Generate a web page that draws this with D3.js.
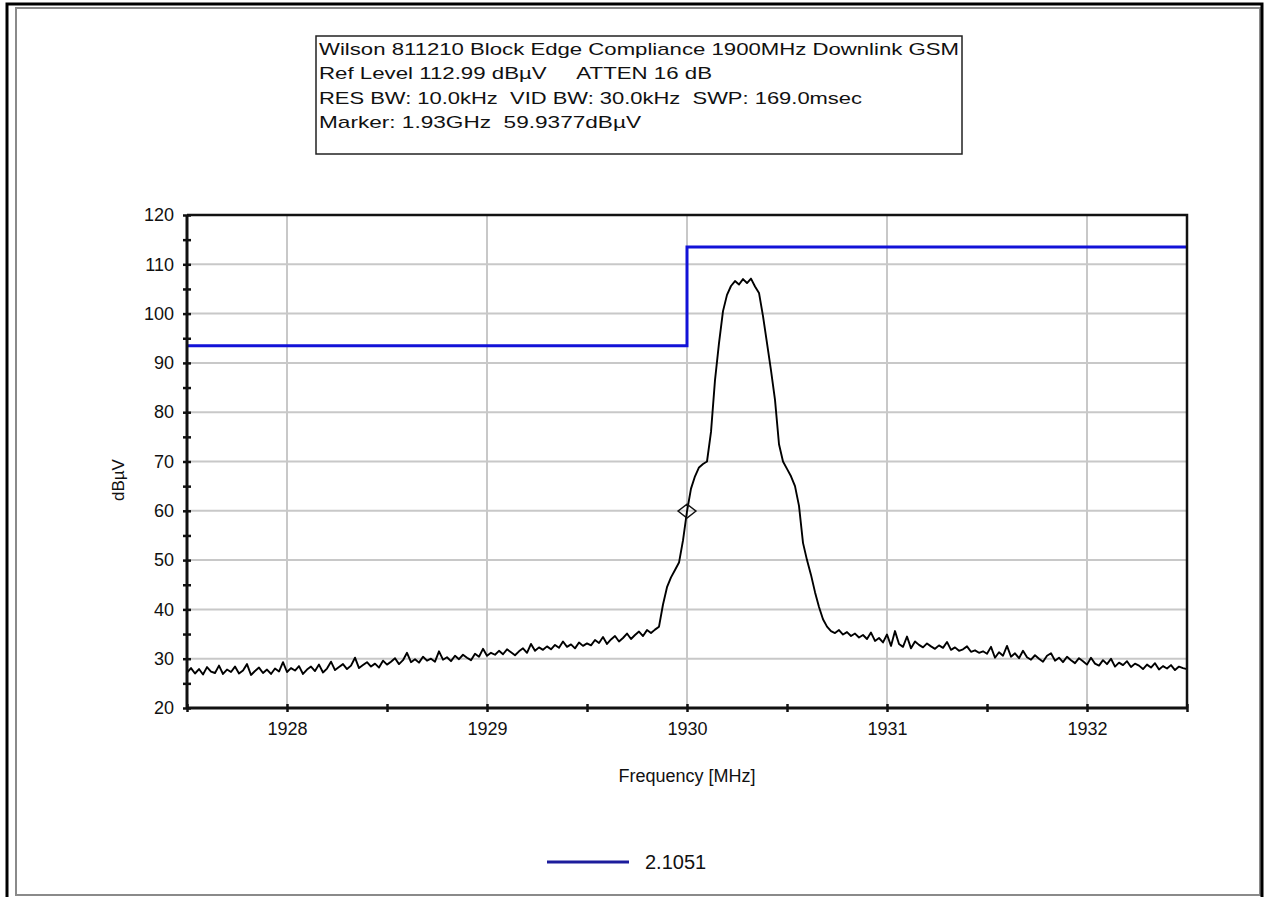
<!DOCTYPE html>
<html>
<head>
<meta charset="utf-8">
<script src="https://cdn.jsdelivr.net/npm/d3@7"></script>
<style>
  body { margin: 0; background: #fff; }
  svg text { font-family: "Liberation Sans", Arial, sans-serif; fill: #111; }
</style>
</head>
<body>
<svg id="chart" width="1268" height="897"></svg>
<script>
// header box lines
var headerLines = [
  "Wilson 811210 Block Edge Compliance 1900MHz Downlink GSM",
  "Ref Level 112.99 dB\u00b5V     ATTEN 16 dB",
  "RES BW: 10.0kHz  VID BW: 30.0kHz  SWP: 169.0msec",
  "Marker: 1.93GHz  59.9377dB\u00b5V"
];
var headerWidths = [640, 393, 543, 322];

// axis ticks
var xTicks = [1928, 1929, 1930, 1931, 1932];
var xMinorTicks = [1927.5, 1928.5, 1929.5, 1930.5, 1931.5, 1932.5];
var yTicks = [20, 30, 40, 50, 60, 70, 80, 90, 100, 110, 120];
var yMinorTicks = [25, 35, 45, 55, 65, 75, 85, 95, 105, 115];

// limit line (blue), MHz / dBuV
var limitFreq = [1927.5, 1930, 1930, 1932.5];
var limitLevel = [93.5, 93.5, 113.5, 113.5];

// measured trace, sweep start 1927.5 MHz, 0.02 MHz per point
var sweepStart = 1927.5, sweepStep = 0.02;
var traceLevel = [
  27.2, 28.1, 27.0, 27.9, 26.8, 28.3, 27.4, 27.1, 28.6, 26.9, 27.8, 27.3, 28.4, 27.0, 27.6, 28.9, 26.7, 27.5, 28.2, 27.1, 27.8, 26.9, 28.0, 27.4, 29.3,
  27.3, 28.1, 27.6, 28.5, 26.9, 27.8, 28.4, 27.5, 28.8, 27.2, 28.0, 29.4, 27.7, 28.3, 28.9, 27.9, 28.6, 30.2, 28.1, 28.7, 29.3, 28.4, 29.0, 28.2, 29.6,
  28.8, 29.4, 30.1, 28.9, 29.7, 31.2, 29.3, 29.9, 29.2, 30.4, 29.6, 30.0, 29.4, 31.5, 29.8, 30.3, 29.5, 30.6, 29.9, 30.8, 30.2, 29.7, 31.0, 30.4, 32.0,
  30.6, 31.2, 30.8, 31.6, 30.9, 31.9, 31.3, 30.7, 31.5, 32.1, 31.2, 33.0, 31.6, 32.3, 31.8, 32.5, 31.9, 32.8, 32.2, 33.5, 32.4, 32.9, 32.1, 33.3, 32.6,
  33.1, 32.7, 33.8, 33.2, 34.4, 33.0, 33.9, 34.6, 33.5, 34.2, 35.1, 34.0, 34.8, 35.5, 34.6, 35.8, 35.2, 35.9,
  36.5, 41.0, 44.5, 46.5, 48.0, 49.5, 54.0, 59.9, 64.5, 67.0, 68.8, 69.5, 70.0, 76.0, 86.5, 94.0, 100.5, 103.8, 105.6, 106.6, 105.9, 107.0,
  106.2, 107.1, 105.5, 104.2, 99.5, 94.0, 88.5, 82.5, 73.5, 70.0, 68.5, 67.0, 65.0, 61.0, 53.5, 50.0, 47.0, 43.5, 40.5, 38.0, 36.5, 35.6,
  35.2, 35.8, 34.9, 35.4, 34.6, 35.1, 34.3, 34.8, 34.0, 35.3, 33.6, 34.2, 33.3,
  34.9, 32.6, 35.6, 33.0, 32.4, 34.5, 32.1, 33.5, 32.8, 32.3, 33.1, 32.5, 32.0, 32.7, 32.2, 33.4, 31.8, 32.3, 31.6, 31.9, 32.5, 31.4, 31.7, 31.2, 31.5,
  31.0, 32.4, 30.2, 31.3, 30.6, 32.6, 30.4, 31.1, 30.1, 31.6, 30.3, 29.8, 30.7, 30.0, 29.4, 30.6, 31.1, 29.6, 30.2, 29.3, 30.4, 29.7, 29.1, 30.1, 29.5,
  28.8, 30.2, 29.0, 28.6, 29.7, 28.9, 30.0, 28.4, 29.2, 28.7, 29.5, 28.3, 29.0, 28.6, 27.9, 28.8, 28.2, 29.1, 27.8, 28.5, 28.0, 28.7, 27.7, 28.4, 28.1, 27.9
];

// marker
var markerFreq = 1930.0, markerLevel = 59.94;
var legendLabel = "2.1051";

var svg = d3.select("#chart"),
    margin = {top: 215, left: 187},
    width = 1000,
    height = 493;

// outer frame of the window
svg.append("rect")
    .attr("x", 16).attr("y", 8)
    .attr("width", 1244).attr("height", 887)
    .attr("fill", "#fff")
    .attr("stroke", "#8a8a8a").attr("stroke-width", 2);
svg.append("path")
    .attr("d", "M7,899V4H1262V899")
    .attr("fill", "none")
    .attr("stroke", "#000").attr("stroke-width", 3);

// header box
svg.append("rect")
    .attr("x", 316).attr("y", 36)
    .attr("width", 646).attr("height", 118)
    .attr("fill", "#fff")
    .attr("stroke", "#222").attr("stroke-width", 1.5);

svg.selectAll(".hdr")
  .data(headerLines)
  .enter().append("text")
    .attr("class", "hdr")
    .attr("x", 319)
    .attr("y", function(d, i) { return 55 + i * 24.3; })
    .attr("textLength", function(d, i) { return headerWidths[i]; })
    .attr("lengthAdjust", "spacingAndGlyphs")
    .style("font-size", "17px")
    .style("white-space", "pre")
    .text(function(d) { return d; });

var x = d3.scaleLinear().domain([1927.5, 1932.5]).range([0, width]),
    y = d3.scaleLinear().domain([20, 120]).range([height, 0]);

var g = svg.append("g")
    .attr("transform", "translate(" + margin.left + "," + margin.top + ")");

// grid
g.selectAll(".vgrid")
  .data(xTicks)
  .enter().append("line")
    .attr("x1", function(d) { return x(d); })
    .attr("x2", function(d) { return x(d); })
    .attr("y1", 0).attr("y2", height)
    .attr("stroke", "#c8c8c8").attr("stroke-width", 2);

g.selectAll(".hgrid")
  .data(yTicks.slice(1, -1))
  .enter().append("line")
    .attr("y1", function(d) { return y(d); })
    .attr("y2", function(d) { return y(d); })
    .attr("x1", 0).attr("x2", width)
    .attr("stroke", "#c8c8c8").attr("stroke-width", 2);

// limit line
var limitData = limitFreq.map(function(f, i) { return [f, limitLevel[i]]; });
g.append("path")
    .datum(limitData)
    .attr("fill", "none")
    .attr("stroke", "#1212d8")
    .attr("stroke-width", 3)
    .attr("d", d3.line()
      .x(function(d) { return x(d[0]); })
      .y(function(d) { return y(d[1]); }));

// trace
var traceData = traceLevel.map(function(v, i) { return [sweepStart + i * sweepStep, v]; });
g.append("path")
    .datum(traceData)
    .attr("fill", "none")
    .attr("stroke", "#000")
    .attr("stroke-width", 1.9)
    .attr("stroke-linejoin", "round")
    .attr("d", d3.line()
      .x(function(d) { return x(d[0]); })
      .y(function(d) { return y(d[1]); }));

// marker diamond
var mx = x(markerFreq), my = y(markerLevel);
g.append("path")
    .attr("d", "M" + (mx - 9) + "," + my + "L" + mx + "," + (my - 7) + "L" + (mx + 9) + "," + my + "L" + mx + "," + (my + 7) + "Z")
    .attr("fill", "none")
    .attr("stroke", "#111").attr("stroke-width", 1.4);

// frame top / right
g.append("path")
    .attr("d", "M0,0H" + width + "V" + height)
    .attr("fill", "none")
    .attr("stroke", "#111").attr("stroke-width", 2.5);

// axes
function crossTicks(sel) {
  sel.selectAll(".tick line").attr("stroke", "#111").attr("stroke-width", 2.5);
  sel.select(".domain").attr("stroke", "#111").attr("stroke-width", 3);
}

var yAxis = g.append("g")
    .call(d3.axisLeft(y).tickValues(yTicks).tickSize(4).tickPadding(9))
    .call(crossTicks);
yAxis.selectAll(".tick line").attr("x1", -4).attr("x2", 4);
yAxis.selectAll(".tick text").style("font-size", "18px").attr("fill", "#111");
yAxis.select(".domain").attr("d", "M0,0V" + height);

var yMinor = g.append("g")
    .call(d3.axisLeft(y).tickValues(yMinorTicks).tickSize(4).tickFormat(""))
    .call(crossTicks);
yMinor.selectAll(".tick line").attr("x1", -4).attr("x2", 4);
yMinor.select(".domain").remove();

var xAxis = g.append("g")
    .attr("transform", "translate(0," + height + ")")
    .call(d3.axisBottom(x).tickValues(xTicks).tickSize(4).tickPadding(10).tickFormat(d3.format("d")))
    .call(crossTicks);
xAxis.selectAll(".tick line").attr("y1", -4).attr("y2", 4);
xAxis.selectAll(".tick text").style("font-size", "18px").attr("fill", "#111");
xAxis.select(".domain").attr("d", "M0,0H" + width);

var xMinor = g.append("g")
    .attr("transform", "translate(0," + height + ")")
    .call(d3.axisBottom(x).tickValues(xMinorTicks).tickSize(4).tickFormat(""))
    .call(crossTicks);
xMinor.selectAll(".tick line").attr("y1", -4).attr("y2", 4);
xMinor.select(".domain").remove();

// axis titles
svg.append("text")
    .attr("x", 687).attr("y", 782)
    .attr("text-anchor", "middle")
    .style("font-size", "18px")
    .text("Frequency [MHz]");

svg.append("text")
    .attr("transform", "translate(124,480) rotate(-90)")
    .attr("text-anchor", "middle")
    .style("font-size", "17px")
    .text("dB\u00b5V");

// legend
svg.append("line")
    .attr("x1", 547).attr("x2", 629)
    .attr("y1", 862).attr("y2", 862)
    .attr("stroke", "#1c1c9c").attr("stroke-width", 3);
svg.append("text")
    .attr("x", 645).attr("y", 869)
    .style("font-size", "20px")
    .text(legendLabel);
</script>
</body>
</html>
